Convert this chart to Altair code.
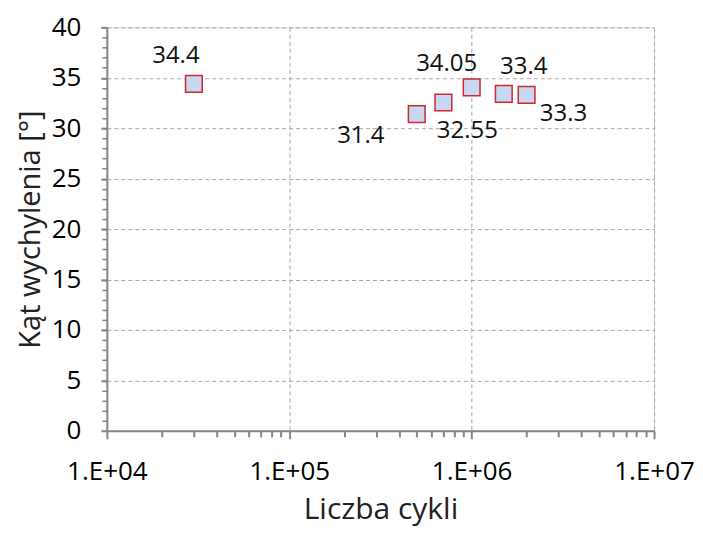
import altair as alt
import pandas as pd

cycles = [3e4, 5e5, 7e5, 1e6, 1.5e6, 2e6]
angles = [34.4, 31.4, 32.55, 34.05, 33.4, 33.3]
labels = ["34.4", "31.4", "32.55", "34.05", "33.4", "33.3"]

x_major = [1e4, 1e5, 1e6, 1e7]
x_minor = [m * 10 ** e for e in range(4, 7) for m in range(2, 10)]
y_major = list(range(0, 41, 5))
y_minor = list(range(0, 41, 1))

df = pd.DataFrame({"cycles": cycles, "angle": angles, "label": labels})

FONT = "Open Sans"
GRID = "#a6a6a6"
AXC = "#868686"

xscale = alt.Scale(type="log", domain=[1e4, 1e7])
yscale = alt.Scale(domain=[0, 40])

base = alt.Chart(df)

points = base.mark_point(
    shape="square", size=280, filled=True, fill="#c6d9f1",
    stroke="#d0282d", strokeWidth=1.5, opacity=1
).encode(
    x=alt.X("cycles:Q", scale=xscale, title="Liczba cykli",
            axis=alt.Axis(values=x_major, orient="bottom", labelFlush=False,
                          labelExpr="'1.E+0' + round(log(datum.value)/LN10)",
                          grid=True, gridColor=GRID, gridDash=[4, 3], gridWidth=1,
                          domainColor=AXC, domainWidth=2, tickColor=AXC, tickWidth=2,
                          tickSize=8, labelFont=FONT, labelFontSize=26, labelColor="#000",
                          labelPadding=20, titleFont=FONT, titleFontSize=30,
                          titleFontWeight="normal", titleColor="#222", titlePadding=10)),
    y=alt.Y("angle:Q", scale=yscale, title="Kąt wychylenia [°]",
            axis=alt.Axis(values=y_major, orient="left", labelFlush=False,
                          grid=True, gridColor=GRID, gridDash=[4, 3], gridWidth=1,
                          domainColor=AXC, domainWidth=2, tickColor=AXC, tickWidth=2,
                          tickSize=6, labelFont=FONT, labelFontSize=26, labelColor="#000",
                          labelPadding=20, titleFont=FONT, titleFontSize=29,
                          titleFontWeight="normal", titleColor="#222", titlePadding=6)),
)

minor = base.mark_point(opacity=0).encode(
    x=alt.X("cycles:Q", scale=xscale, title=None,
            axis=alt.Axis(values=x_minor, orient="bottom", labels=False, grid=False,
                          domain=False, tickColor=AXC, tickWidth=2, tickSize=6)),
    y=alt.Y("angle:Q", scale=yscale, title=None,
            axis=alt.Axis(values=y_minor, orient="left", labels=False, grid=False,
                          domain=False, tickColor=AXC, tickWidth=1.5, tickSize=5)),
)

offsets = {
    "34.4": (-18, -28), "31.4": (-56, 22), "32.55": (24, 29),
    "34.05": (-25, -23), "33.4": (20, -27), "33.3": (37, 19),
}
texts = []
for lab, (dx, dy) in offsets.items():
    texts.append(
        base.transform_filter(alt.datum.label == lab).mark_text(
            font=FONT, fontSize=24, color="#111", dx=dx, dy=dy
        ).encode(
            x=alt.X("cycles:Q", scale=xscale, axis=None),
            y=alt.Y("angle:Q", scale=yscale, axis=None),
            text="label:N",
        )
    )

chart = alt.layer(points, minor, *texts).resolve_axis(
    x="independent", y="independent"
).properties(
    width=548, height=404,
    padding={"left": 8, "top": 6, "right": 0, "bottom": 5},
).configure_view(stroke=None).configure(background="white")

chart.save("out.html", embed_options={"renderer": "svg", "actions": False})
